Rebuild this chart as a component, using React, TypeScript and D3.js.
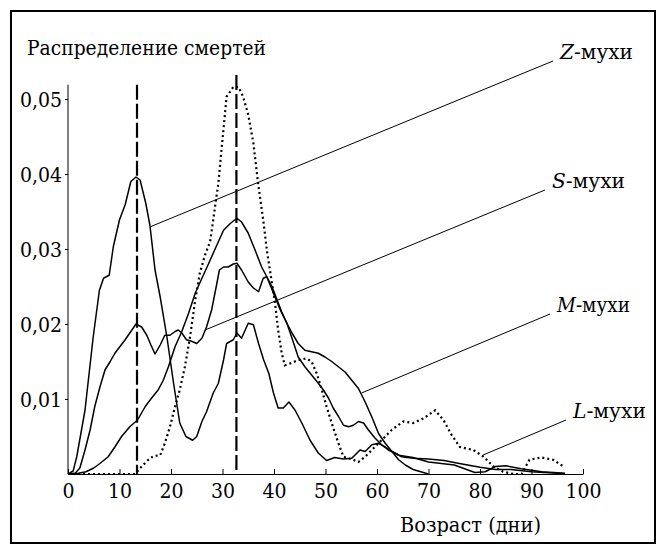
import React, { useEffect, useRef } from 'react';
import * as d3 from 'd3';

// age (days) / death density (x1000)
const zFlies: [number, number][] = [
  [0, 0], [1, 0.4], [1.7, 2.3], [3.3, 8.5], [4.9, 18.3], [6.1, 24.5], [6.9, 26.1], [8, 26.5],
  [8.8, 30.3], [10, 33.9], [11.1, 35.9], [12.2, 39], [13.2, 39.6], [14, 39.2], [15.1, 36.1],
  [15.9, 33.2], [16.9, 27.2], [17.9, 23.6], [19.2, 18.3], [20.5, 12.1], [21.7, 6.8], [22.9, 5],
  [24.2, 4.5], [25, 5], [26, 7], [26.9, 8.3], [28.2, 10.8], [29.2, 12.1], [30.2, 15.2],
  [30.8, 17.4], [32.1, 17.9], [32.8, 18.8], [33.7, 18.1], [35, 20.1], [36, 19.9], [37, 17.4],
  [38, 15.2], [39, 13.4], [39.9, 10.8], [40.8, 8.8], [41.8, 8.8], [42.9, 9.6], [44.1, 8.5],
  [45.4, 6.8], [47, 4.5], [48.6, 2.8], [50.2, 1.8], [51.8, 2.2], [53.5, 2], [55.1, 2.1],
  [56.7, 3.2], [57.7, 3], [59, 3.9], [60.3, 4.1], [61.6, 3.6], [62.9, 3], [64.2, 2.5],
  [67, 2.2], [70, 1.6], [75, 1.2], [79, 0.2], [81, 0.3], [83, 1], [85, 1.1], [88, 0.7],
  [92, 0.3], [96.5, 0.1]
];

const sFlies: [number, number][] = [
  [0, 0], [1.4, 0.1], [2.3, 0.8], [3.3, 3.2], [4.3, 5.9], [5.2, 9], [6.2, 11.6], [7.2, 13.9],
  [8.2, 15], [9.1, 16.1], [10.1, 17], [11.1, 17.9], [12.2, 19], [13.2, 20], [14.3, 19.6],
  [15.3, 18.5], [16.1, 17.2], [16.9, 16], [17.9, 17.2], [18.8, 18.5], [19.8, 18.5], [20.8, 19],
  [21.4, 19.2], [22.1, 18.8], [23, 17.9], [24, 17.7], [25, 17.4], [26, 18.1], [26.9, 19.6],
  [27.9, 21.9], [28.9, 25.4], [29.4, 27.2], [30.2, 27.6], [31.1, 27.6], [32.1, 28], [32.8, 28.1],
  [33.7, 27.2], [35, 25.6], [36, 24.8], [37, 24.3], [37.9, 26.1], [38.6, 26.3], [39.6, 25],
  [40.5, 23.4], [41.5, 21.6], [42.5, 20.1], [43.4, 18.3], [44.7, 15.6], [46, 14.3], [47.3, 13.2],
  [48.6, 12.1], [49.6, 11.2], [50.6, 10.1], [51.5, 8.8], [52.5, 7.7], [53.5, 6.5], [54.5, 6.3],
  [55.4, 6.5], [56.4, 7], [57.4, 6.8], [58.3, 5.9], [59.6, 4.8], [60.9, 3.9], [62.2, 3.2],
  [63.5, 2.8], [64.8, 2.3], [67, 2.1], [70, 2], [73, 1.8], [76, 1.4], [80, 0.9], [83, 0.6],
  [86, 0.6], [90, 0.3], [95, 0.1], [96.5, 0.05]
];

const mFlies: [number, number][] = [
  [0, 0], [2, 0.1], [3.5, 0.3], [5, 0.8], [6.2, 1.4], [7.8, 2.3], [9.1, 3.6], [10.4, 5],
  [12, 6.3], [13.5, 7.2], [15, 9], [16.2, 10.1], [17.5, 11.2], [18.5, 12.5], [19.5, 14.3],
  [20.8, 17], [22.1, 19], [23.4, 21.4], [24.7, 24.1], [26, 26.1], [27.2, 27.9], [28.5, 29.9],
  [30.2, 32.5], [31.5, 33.4], [32.8, 34.1], [33.7, 33.6], [35, 32.1], [36.3, 29.9], [37.6, 27.6],
  [38.6, 26.3], [39.9, 24.1], [41.2, 21.9], [42.5, 20.1], [43.5, 18.8], [44.7, 17.4], [46, 16.5],
  [47.3, 16.3], [48.6, 16.1], [49.9, 15.6], [51.2, 15], [52.5, 14.3], [53.8, 13.6], [55.1, 12.5],
  [56.4, 11.4], [57.7, 9.6], [59, 7.6], [60.3, 5.4], [61.6, 4.1], [62.9, 3], [64.2, 1.9],
  [65.5, 1.2], [67, 0.6], [69, 0.2], [70, 0]
];

const lFlies: [number, number][] = [
  [0, 0], [13, 0], [14.3, 1], [15.6, 1.9], [16.6, 2.4], [17.9, 2.5], [18.8, 4.1], [19.8, 6.3],
  [20.8, 9], [21.7, 11.2], [22.7, 14.3], [23.7, 18.3], [24.7, 23.2], [25.6, 26.8], [26.6, 29.2],
  [27.6, 31], [28.2, 33.9], [29.2, 38.8], [29.8, 43.2], [30.8, 50.3], [32.1, 51.6], [33.1, 51.6],
  [34, 50.3], [35, 47.9], [36, 44.1], [36.9, 38.8], [37.9, 33.9], [38.7, 29.4], [39.5, 25.9],
  [40.2, 22.8], [40.8, 19.2], [41.5, 16.1], [42.1, 14.5], [43.4, 14.8], [44.7, 15.2], [46.3, 15.4],
  [47.3, 15], [48.3, 13.4], [49.3, 11.2], [50.2, 9], [51.2, 6.8], [52.5, 4.1], [53.5, 2.3],
  [54.4, 2.1], [55.4, 1.9], [56.4, 1.6], [57.7, 2.3], [59, 3.2], [60.3, 4.1], [61.6, 5],
  [62.9, 5.9], [65.1, 7], [67, 6.8], [69, 7.4], [71.3, 8.5], [72.9, 7.2], [74.5, 5.2], [76.1, 3.6],
  [78.7, 3.2], [80.7, 2.3], [82.6, 1], [84.5, 0.3], [86.5, 0], [88.1, 0], [89.6, 1.9], [91.9, 2.2],
  [94.2, 1.9], [96.2, 1]
];

const xTicks = [0, 10, 20, 30, 40, 50, 60, 70, 80, 90, 100];
const yTicks = [0.01, 0.02, 0.03, 0.04, 0.05];
const markerAges = [13.4, 32.7];
const markerTops = [0.0519, 0.0532];

// label letter, leader start [age, density x1000], leader end (px)
const labelNames = ['Z', 'S', 'M', 'L'];
const leaderFrom: [number, number][] = [[16.1, 33.0], [26.6, 19.2], [57.0, 10.8], [80.5, 2.5]];
const leaderTo: [number, number][] = [[553, 61], [545, 190], [550, 314], [566, 420]];

const W = 656;
const H = 544;
const SERIF = "'DejaVu Serif Condensed', 'DejaVu Serif', serif";

const App: React.FC = () => {
  const svgRef = useRef<SVGSVGElement>(null);

  useEffect(() => {
    if (!svgRef.current) return;
    const svg = d3.select(svgRef.current);
    svg.selectAll('*').remove();

    const x = d3.scaleLinear().domain([0, 100]).range([68, 583]);
    const y = d3.scaleLinear().domain([0, 0.05]).range([474, 99]);

    // frame
    svg.append('rect')
      .attr('x', 11).attr('y', 11)
      .attr('width', W - 12).attr('height', H - 12)
      .attr('fill', 'none').attr('stroke', '#000').attr('stroke-width', 2);

    // axes
    const xAxis = svg.append('g')
      .attr('transform', `translate(0,${y(0)})`)
      .call(d3.axisBottom(x).tickValues(xTicks).tickSizeInner(-5).tickSizeOuter(0).tickPadding(9)
        .tickFormat((d: any) => String(d)));
    xAxis.attr('font-family', SERIF).attr('font-size', 21);
    xAxis.select('.domain').attr('stroke', '#000');
    xAxis.selectAll('text').attr('fill', '#000');

    const yAxis = svg.append('g')
      .attr('transform', `translate(${x(0)},0)`)
      .call(d3.axisLeft(y).tickValues(yTicks).tickSizeInner(3).tickSizeOuter(0).tickPadding(3)
        .tickFormat((d: any) => d3.format('.2f')(d).replace('.', ',')));
    yAxis.attr('font-family', SERIF).attr('font-size', 21);
    yAxis.select('.domain').remove();
    yAxis.selectAll('text').attr('fill', '#000').attr('dy', '0.36em');
    svg.append('line')
      .attr('x1', x(0)).attr('x2', x(0))
      .attr('y1', y(0)).attr('y2', y(0.0519))
      .attr('stroke', '#000').attr('stroke-width', 1);

    // mean age markers
    markerAges.forEach((a, i) => {
      svg.append('line')
        .attr('x1', x(a)).attr('x2', x(a))
        .attr('y1', y(markerTops[i])).attr('y2', y(0))
        .attr('stroke', '#000').attr('stroke-width', 2.2)
        .attr('stroke-dasharray', '15,4');
    });

    const line = d3.line<[number, number]>()
      .x(d => x(d[0]))
      .y(d => y(d[1] / 1000));

    [zFlies, sFlies, mFlies].forEach(series => {
      svg.append('path')
        .datum(series)
        .attr('d', line)
        .attr('fill', 'none')
        .attr('stroke', '#000')
        .attr('stroke-width', 1.5)
        .attr('stroke-linejoin', 'round');
    });

    svg.append('path')
      .datum(lFlies)
      .attr('d', line)
      .attr('fill', 'none')
      .attr('stroke', '#000')
      .attr('stroke-width', 2.2)
      .attr('stroke-dasharray', '2,3');

    // leaders and labels
    labelNames.forEach((name, i) => {
      const [a, v] = leaderFrom[i];
      const [ex, ey] = leaderTo[i];
      svg.append('line')
        .attr('x1', x(a)).attr('y1', y(v / 1000))
        .attr('x2', ex).attr('y2', ey)
        .attr('stroke', '#000').attr('stroke-width', 1);
      const t = svg.append('text')
        .attr('x', ex + 7).attr('y', ey - 2)
        .attr('font-family', SERIF).attr('font-size', 21)
        .attr('textLength', 73).attr('lengthAdjust', 'spacingAndGlyphs');
      t.append('tspan').attr('font-style', 'italic').text(name);
      t.append('tspan').text('-мухи');
    });

    svg.append('text')
      .attr('x', 27).attr('y', 55)
      .attr('font-family', SERIF).attr('font-size', 21)
      .attr('textLength', 239).attr('lengthAdjust', 'spacingAndGlyphs')
      .text('Распределение смертей');

    svg.append('text')
      .attr('x', 400).attr('y', 532)
      .attr('font-family', SERIF).attr('font-size', 21)
      .attr('textLength', 141).attr('lengthAdjust', 'spacingAndGlyphs')
      .text('Возраст (дни)');
  }, []);

  return (
    <div style={{ position: 'absolute', left: 0, top: 0 }}>
      <svg ref={svgRef} width={W} height={H} style={{ display: 'block', background: '#fff' }} />
    </div>
  );
};

export default App;
